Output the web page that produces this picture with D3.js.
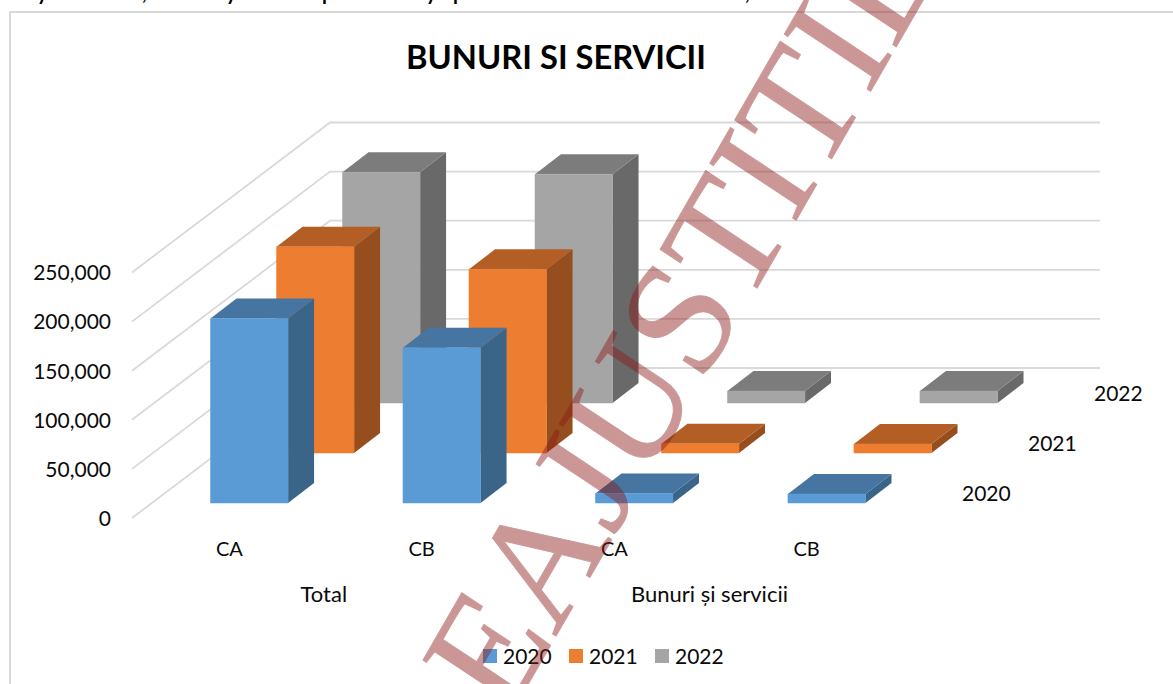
<!DOCTYPE html>
<html>
<head>
<meta charset="utf-8">
<script src="https://cdn.jsdelivr.net/npm/d3@7"></script>
<style>
html,body{margin:0;padding:0;background:#fff;overflow:hidden}
svg{display:block}
text{font-family:Lato,"Open Sans",sans-serif;fill:#0a0a0a}
</style>
</head>
<body>
<svg id="c" width="1173" height="684"></svg>
<script>
const title = "BUNURI SI SERVICII";
const categories = ["Total CA", "Total CB", "Bunuri CA", "Bunuri CB"];
const categoryLabels = ["CA", "CB", "CA", "CB"];
const groupLabels = ["Total", "Bunuri și servicii"];
const seriesNames = ["2022", "2021", "2020"];
const values2020 = [188000, 158000, 9800, 9200];
const values2021 = [210000, 187000, 9300, 9200];
const values2022 = [235000, 233000, 12200, 12200];
const axisTicks = [0, 50000, 100000, 150000, 200000, 250000];
const legendOrder = ["2020", "2021", "2022"];
const watermark = "EA JUSTITIE";
const clippedLine = [["y", 37], [",", 142], ["y", 226], ["p", 322], ["y", 426], ["p", 453], [",", 745]];

const seriesValues = {"2020": values2020, "2021": values2021, "2022": values2022};
const palette = {
  "2020": {front: "#5B9BD5", top: "#4575A0", side: "#3A6488"},
  "2021": {front: "#ED7D31", top: "#B35E25", side: "#964E1E"},
  "2022": {front: "#A5A5A5", top: "#7C7C7C", side: "#696969"}
};

const svg = d3.select("#c");

// Projection scales
const xCat = d3.scaleBand().domain(categories).range([210.5, 865.5]).paddingInner(0.597).paddingOuter(0);
const depthX = d3.scalePoint().domain(["2020", "2021", "2022"]).range([0, 132]);
const depthY = d3.scalePoint().domain(["2020", "2021", "2022"]).range([503, 403]);
const height = d3.scaleLinear().domain([0, 250000]).range([0, 245.5]);
const axisY = d3.scaleLinear().domain([0, 250000]).range([518, 272.5]);
const wallDX = 198, wallDY = -150, wallLeft = 132, wallRight = 1100;
const barDX = 26, barDY = -20;

// Frame
svg.append("rect").attr("x", 10).attr("y", 12).attr("width", 1400).attr("height", 1000)
  .attr("fill", "#fff").attr("stroke", "#d9d9d9").attr("stroke-width", 2);

// Cropped line of the page above the chart
svg.append("g").selectAll("text").data(clippedLine).join("text")
  .attr("x", d => d[1]).attr("y", 0)
  .style("font-size", "20px").style("font-weight", 700).style("fill", "#000")
  .text(d => d[0]);

// Title
svg.append("text").attr("x", 556).attr("y", 69).attr("text-anchor", "middle")
  .style("font-size", "32.7px").style("font-weight", 700).style("fill", "#000")
  .text(title);

// Gridlines
const line = d3.line();
svg.append("g").selectAll("path").data(axisTicks).join("path")
  .attr("fill", "none").attr("stroke", "#d9d9d9").attr("stroke-width", 1.8)
  .attr("d", v => line([
    [wallLeft, axisY(v)],
    [wallLeft + wallDX, axisY(v) + wallDY],
    [wallRight, axisY(v) + wallDY]
  ]));

// Value axis
const axisG = svg.append("g").attr("transform", "translate(111,0)")
  .call(d3.axisLeft(axisY).tickValues(axisTicks).tickSize(0).tickPadding(0).tickFormat(d3.format(",")));
axisG.select(".domain").remove();
axisG.selectAll("text").style("font-size", "21px").style("font-family", "Lato").attr("dy", "0.35em");

// Bars, back row to front row
seriesNames.forEach(s => {
  const col = palette[s];
  const g = svg.append("g");
  categories.forEach((c, i) => {
    const x0 = xCat(c) + depthX(s);
    const x1 = x0 + xCat.bandwidth();
    const yb = depthY(s);
    const yt = yb - height(seriesValues[s][i]);
    const bar = g.append("g");
    bar.append("path").attr("fill", col.side)
      .attr("d", line([[x1, yt], [x1 + barDX, yt + barDY], [x1 + barDX, yb + barDY], [x1, yb]]) + "Z");
    bar.append("path").attr("fill", col.top)
      .attr("d", line([[x0, yt], [x0 + barDX, yt + barDY], [x1 + barDX, yt + barDY], [x1, yt]]) + "Z");
    bar.append("path").attr("fill", col.front)
      .attr("stroke", col.front).attr("stroke-opacity", 0.5).attr("stroke-width", 1)
      .attr("d", line([[x0, yt], [x1, yt], [x1, yb], [x0, yb]]) + "Z");
  });
});

const labelSize = "21px";
// Category labels
svg.append("g").selectAll("text").data(categories).join("text")
  .attr("x", c => xCat(c) + 5.5).attr("y", 556)
  .style("font-size", "20px")
  .text((c, i) => categoryLabels[i]);

// Group labels
svg.append("g").selectAll("text").data(groupLabels).join("text")
  .attr("x", (d, i) => i === 0 ? xCat(categories[0]) + 90 : xCat(categories[2]) + 35.5)
  .attr("y", 602)
  .style("font-size", "22px")
  .text(d => d);

// Depth axis labels
svg.append("g").selectAll("text").data(legendOrder).join("text")
  .attr("x", d => 963 + depthX(d) - 1)
  .attr("y", d => depthY(d) - 2)
  .style("font-size", labelSize)
  .text(d => d);

// Legend
const legendX = d3.scalePoint().domain(legendOrder).range([483, 655]);
const legend = svg.append("g").selectAll("g").data(legendOrder).join("g")
  .attr("transform", d => `translate(${legendX(d)},649)`);
legend.append("rect").attr("width", 14).attr("height", 14).attr("fill", d => palette[d].front);
legend.append("text").attr("x", 20).attr("y", 14.5).style("font-size", labelSize).text(d => d);

// Watermark overlay (baseline at 60 degrees, stems slightly sheared as in the scanned picture)
svg.append("text")
  .attr("transform", "matrix(0.5,-0.866,0.834,0.552,507,721)")
  .attr("opacity", 0.45)
  .style("font-family", "'Liberation Serif',serif")
  .style("font-size", "158px")
  .style("word-spacing", "-29px")
  .style("fill", "rgb(140,27,25)")
  .style("stroke", "rgb(140,27,25)")
  .style("stroke-width", "1px")
  .text(watermark);
</script>
</body>
</html>
